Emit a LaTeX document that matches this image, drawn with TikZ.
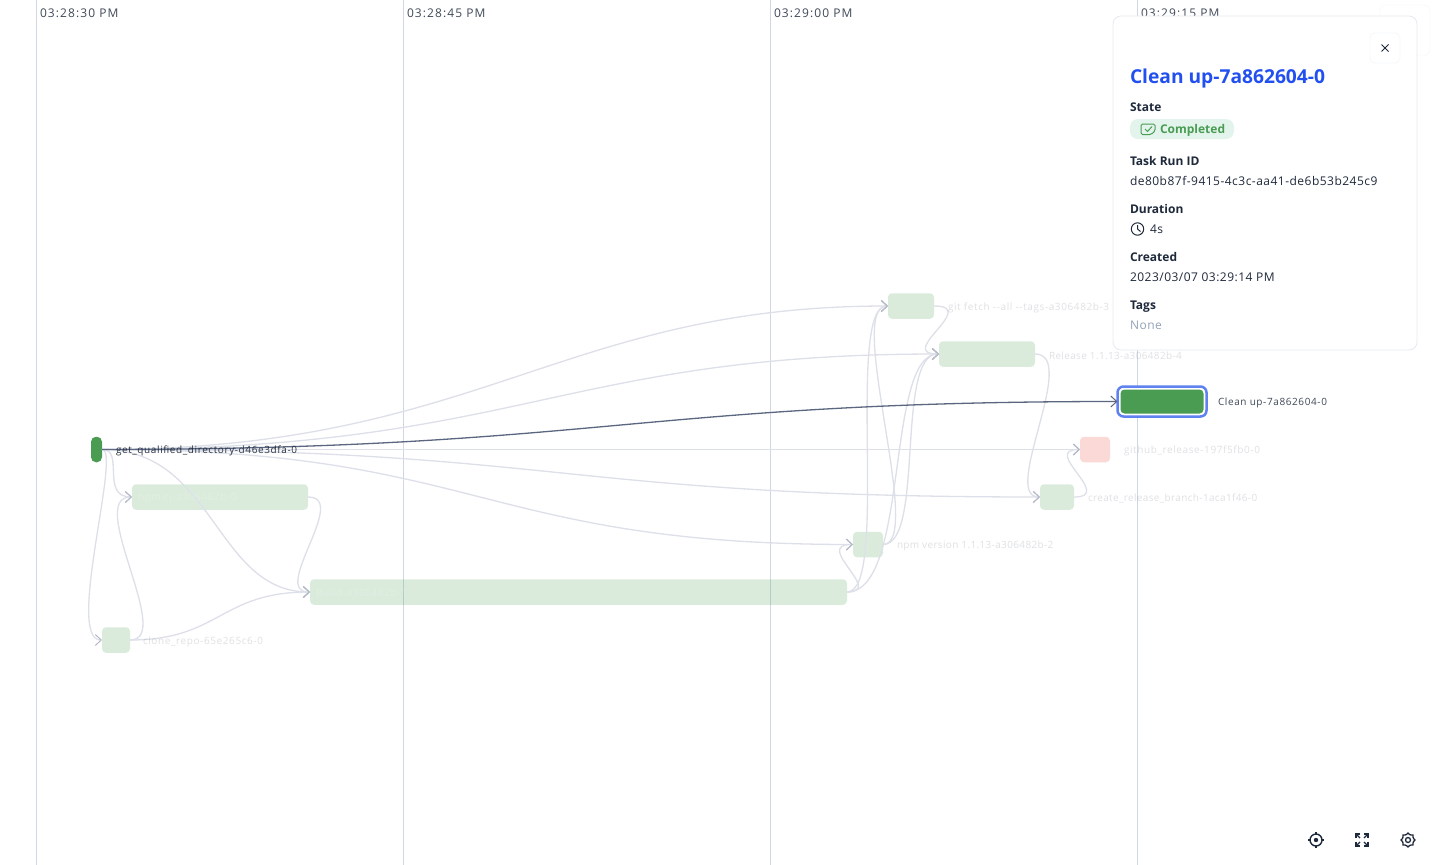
\documentclass[tikz,border=0pt]{standalone}
\usepackage{fontspec}
\setmainfont{Open Sans}
\usetikzlibrary{arrows.meta}
\definecolor{grid}{HTML}{CFD7E5}
\definecolor{faintred}{HTML}{FAD9D7}
\definecolor{solidgreen}{HTML}{4A9C53}
\definecolor{edgefaint}{HTML}{DDE0E9}
\definecolor{edgehead}{HTML}{B4BAC8}
\definecolor{edgedark}{HTML}{5B6780}
\definecolor{ink}{HTML}{1E293B}
\definecolor{ringblue}{HTML}{5F82F0}
\definecolor{titleblue}{HTML}{2250F0}
\definecolor{panelline}{HTML}{E5E9F0}
\definecolor{pillbg}{HTML}{E3F4EC}
\definecolor{nonetext}{HTML}{94A3B8}
\tikzset{
  x=1pt,y=-1pt,
  every node/.style={inner sep=0pt,outer sep=0pt},
  tick/.style={draw=grid,line width=1pt},
  ticktext/.style={anchor=west,text=ink!85,font=\fontsize{12}{14}\selectfont\addfontfeature{LetterSpace=9}},
  boxn/.style={rectangle,rounded corners=4pt,minimum height=25.5pt,fill=solidgreen,fill opacity=.2,anchor=center},
  lab/.style={anchor=west,text=ink,text opacity=.14,font=\fontsize{10}{12}\selectfont\addfontfeature{LetterSpace=6}},
  labtight/.style={anchor=west,text=ink,text opacity=.14,font=\fontsize{10}{12}\selectfont\addfontfeature{LetterSpace=3.5}},
  inlab/.style={anchor=west,text=white,text opacity=.2,font=\fontsize{10}{12}\selectfont\addfontfeature{LetterSpace=6}},
  edgel/.style={draw=edgefaint,line width=1.3pt,-{Straight Barb[length=6pt,width=11pt,line width=1pt,color=edgehead]}},
  edged/.style={draw=edgedark,line width=1.3pt,-{Straight Barb[length=6pt,width=11pt,line width=1pt]}},
  phead/.style={anchor=west,text=ink,font=\fontsize{12}{14}\selectfont\bfseries},
  ptext/.style={anchor=west,text=ink,font=\fontsize{12}{14}\selectfont\addfontfeature{LetterSpace=4}},
}
\begin{document}
\begin{tikzpicture}
\useasboundingbox (0,0) rectangle (1433,865);
\fill[white] (0,0) rectangle (1433,865);
% time grid
\foreach \n/\x/\t in {a/36.5/03:28:30 PM,b/403.5/03:28:45 PM,c/770.5/03:29:00 PM,d/1137.5/03:29:15 PM}{
  \coordinate (top\n) at (\x,0);
  \coordinate (bot\n) at (\x,865);
  \draw[tick] (top\n) -- (bot\n);
  \node[ticktext] at (\x+3.5,13) {\t};
}
% nodes
\node[boxn,fill opacity=1,minimum width=11pt,rounded corners=5pt] (gq) at (96.5,449.5) {};
\node[boxn,minimum width=176pt] (npmci) at (220,497) {};
\node[boxn,minimum width=28pt] (clone) at (116,640) {};
\node[boxn,minimum width=537pt] (build) at (578.5,592) {};
\node[boxn,minimum width=30pt] (npmv) at (868,544.5) {};
\node[boxn,minimum width=46pt] (fetch) at (911,306) {};
\node[boxn,minimum width=96pt] (release) at (987,354) {};
\node[boxn,fill=faintred,fill opacity=1,minimum width=30pt] (gh) at (1095,449.5) {};
\node[boxn,minimum width=34pt] (branch) at (1057,497) {};
\node[rectangle,draw=ringblue,fill=white,line width=2.5pt,rounded corners=6pt,minimum width=89pt,minimum height=30pt] (ring) at (1162,401.5) {};
\node[boxn,fill opacity=1,minimum width=83pt,minimum height=24pt] (clean) at (1162,401.5) {};
% faint edges from get_qualified
\draw[edgel] (gq.east) .. controls (480,449) and (560,306) .. (fetch.west);
\draw[edgel] (gq.east) .. controls (520,449) and (560,354) .. (release.west);
\draw[edgel] (gq.east) -- (gh.west);
\draw[edgel] (gq.east) .. controls (560,449) and (560,497) .. (branch.west);
\draw[edgel] (gq.east) .. controls (480,449) and (480,544.5) .. (npmv.west);
\draw[edgel] (gq.east) .. controls (125,449) and (100,497) .. (npmci.west);
\draw[edgel] (gq.east) .. controls (215,449) and (215,592) .. (build.west);
\draw[edgel] (gq.east) .. controls (122,449) and (65,640) .. (clone.west);
% others
\draw[edgel] (clone.east) .. controls (175,640) and (85,497) .. (npmci.west);
\draw[edgel] (clone.east) .. controls (220,640) and (220,592) .. (build.west);
\draw[edgel] (npmci.east) .. controls (350,497) and (270,592) .. (build.west);
\draw[edgel] (build.east) .. controls (885,592) and (812,544.5) .. (npmv.west);
\draw[edgel] (build.east) .. controls (890,592) and (845,306) .. (fetch.west);
\draw[edgel] (build.east) .. controls (910,592) and (885,354) .. (release.west);
\draw[edgel] (npmv.east) .. controls (925,544.5) and (845,306) .. (fetch.west);
\draw[edgel] (npmv.east) .. controls (925,544.5) and (895,354) .. (release.west);
\draw[edgel] (fetch.east) .. controls (980,306) and (895,354) .. (release.west);
\draw[edgel] (release.east) .. controls (1080,354) and (1000,497) .. (branch.west);
\draw[edgel] (branch.east) .. controls (1115,497) and (1040,449.5) .. (gh.west);
% highlighted edge
\draw[edged] (gq.east) .. controls (600,449) and (640,401.5) .. (ring.west);
% labels inside
\node[inlab] at (138,497.5) {npm ci-a306482b-0};
\node[inlab] at (316,592.5) {Build-a306482b-1};
% labels
\node[lab,text opacity=.95] (lgq) at (116,451) {get\_qualified\_directory-d46e3dfa-0};
\node[lab] (lclone) at (143,642) {clone\_repo-65e265c6-0};
\node[labtight] (lnpmv) at (897,546) {npm version 1.1.13-a306482b-2};
\node[lab] (lfetch) at (948,307.5) {git fetch -{}-all -{}-tags-a306482b-3};
\node[labtight] (lrel) at (1049,355.3) {Release 1.1.13-a306482b-4};
\node[lab] (lgh) at (1124,450.8) {github\_release-197f5fb0-0};
\node[labtight] (lbr) at (1088,498.3) {create\_release\_branch-1aca1f46-0};
\node[lab,text opacity=.85] (lcl) at (1218,402.8) {Clean up-7a862604-0};
% panel
\node[rectangle,draw=panelline!40,fill=white,rounded corners=6pt,minimum width=50pt,minimum height=50pt] (bgbtn) at (1405,30) {};
\node[rectangle,draw=panelline,line width=.8pt,fill=white,rounded corners=8pt,minimum width=304pt,minimum height=334pt] (panel) at (1265,183) {};
\node[rectangle,draw=panelline!35,line width=.8pt,fill=white,rounded corners=5pt,minimum width=30pt,minimum height=30pt] (close) at (1385,48) {};
\coordinate (c1) at (1381.5,44.5); \coordinate (c2) at (1388.5,51.5);
\coordinate (c3) at (1388.5,44.5); \coordinate (c4) at (1381.5,51.5);
\draw[ink,line width=.9pt] (c1) -- (c2) (c3) -- (c4);
\node[anchor=west,text=titleblue,font=\fontsize{19.2}{22}\selectfont\bfseries] (title) at (1130,79) {Clean up-7a862604-0};
\node[phead] at (1130,107) {State};
\node[rectangle,fill=pillbg,rounded corners=8pt,minimum width=104pt,minimum height=20pt] (pill) at (1182,129) {};
\draw[solidgreen,line width=1pt,rounded corners=1.5pt] (1141,124) -- (1155,124) -- (1155,131) -- (1151,134.5) -- (1141,134.5) -- cycle;
\draw[solidgreen,line width=1pt] (1145,129) -- (1147.5,131.5) -- (1152,126.5);
\node[anchor=west,text=solidgreen,font=\fontsize{12}{14}\selectfont\bfseries] at (1160,130) {Completed};
\node[phead] at (1130,161) {Task Run ID};
\node[ptext] at (1130,180.7) {de80b87f-9415-4c3c-aa41-de6b53b245c9};
\node[phead] at (1130,208.7) {Duration};
\draw[ink,line width=1pt] (1137.5,229) circle (6.2pt);
\draw[ink,line width=1pt] (1137.5,225) -- (1137.5,229) -- (1140.5,231.5);
\node[ptext] at (1150,229.5) {4s};
\node[phead] at (1130,257) {Created};
\node[ptext] at (1130,277.5) {2023/03/07 03:29:14 PM};
\node[phead] at (1130,306.8) {Tags};
\node[ptext,text=nonetext] at (1130,325.5) {None};
% toolbar: locate
\draw[ink,line width=1.4pt] (1316,840) circle (6pt);
\fill[ink] (1316,840) circle (2.2pt);
\draw[ink,line width=1.4pt] (1316,832) -- (1316,834) (1316,846) -- (1316,848) (1308,840) -- (1310,840) (1322,840) -- (1324,840);
% toolbar: expand
\foreach \sx/\sy in {1/1,-1/1,1/-1,-1/-1}{
  \draw[ink,line width=1.6pt] (1362+5.8*\sx,840+1.8*\sy) -- (1362+5.8*\sx,840+5.8*\sy) -- (1362+1.8*\sx,840+5.8*\sy);
  \draw[ink,line width=1.3pt] (1362+5*\sx,840+5*\sy) -- (1362+2*\sx,840+2*\sy);
}
% toolbar: settings
\draw[ink,line width=1.3pt] (1408,840) circle (2.5pt);
\draw[ink,line width=1.3pt] plot[smooth cycle,domain=0:345,samples=24,variable=\a] ({1408+(6.2+.8*cos(8*\a))*cos(\a)},{840+(6.2+.8*cos(8*\a))*sin(\a)});
\end{tikzpicture}
\end{document}
